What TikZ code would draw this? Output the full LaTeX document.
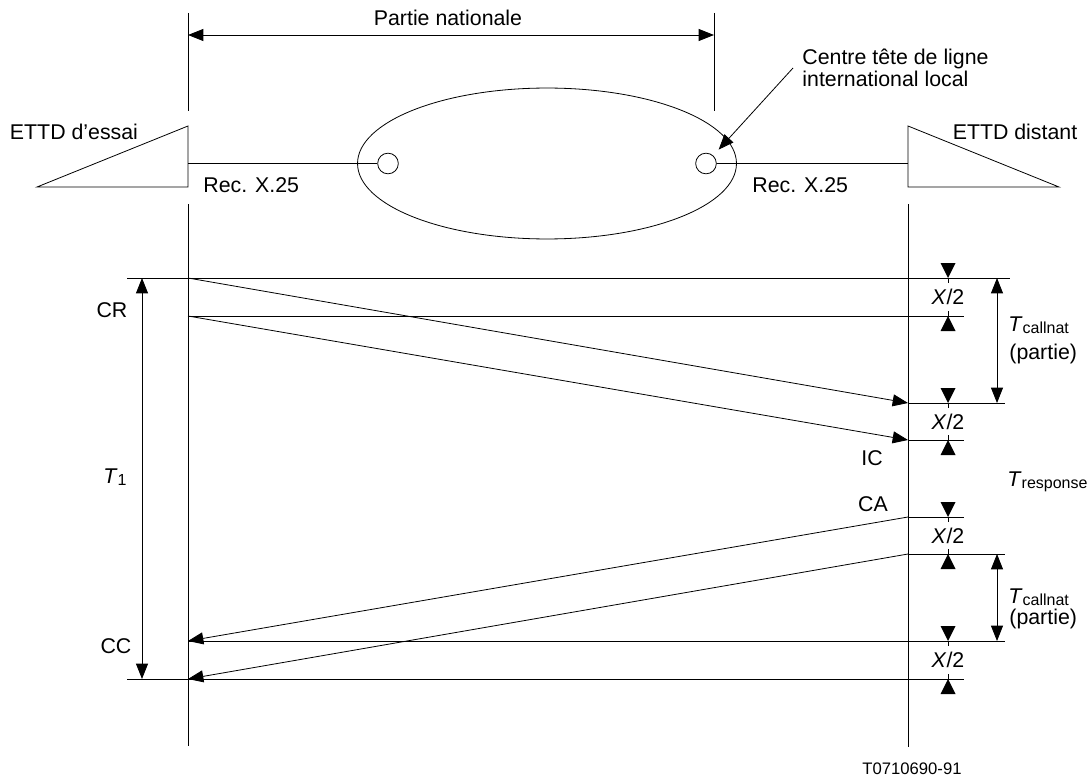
\documentclass[tikz,border=0pt]{standalone}
\usepackage{fontspec}
\setmainfont{Liberation Sans}
\usepackage{tikz}
\usetikzlibrary{arrows.meta}

\newcommand{\Tsub}[1]{\textit{T}\raisebox{-1.5pt}{\fontsize{12pt}{14pt}\selectfont #1}}

\begin{document}
\begin{tikzpicture}[x=0.75pt, y=-0.75pt, line width=0.6pt,
    >={Triangle[length=11.5pt,width=9pt]},
    every node/.style={font=\fontsize{16pt}{19pt}\selectfont, inner sep=0pt},
    txt/.style={anchor=base},
    txtl/.style={anchor=base west},
    pt/.style={circle, draw, minimum size=15.5pt, inner sep=0pt}]
      \useasboundingbox (0,0) rectangle (1088,781);

      \node[txt] (essai) at (74,140) {ETTD d'essai};
      \node[txt] (distant) at (1015,140) {ETTD distant};
      \node[txt] (nat) at (448,26) {Partie nationale};
      \node[txtl] (recA) at (203,192) {Rec. X.25};
      \node[txtl] (recB) at (752,192) {Rec. X.25};
      \node[txtl] (centre) at (802,65) {Centre tête de ligne};
      \node[txtl] (centreb) at (802,87) {international local};

      \draw (37,187) -- (188,126) -- (188,187) -- cycle;
      \draw (1059,187) -- (908,126) -- (908,187) -- cycle;
      \draw (547,163.5) ellipse [x radius=142.1pt, y radius=56.6pt];
      \node[pt] (ptA) at (388,163.5) {};
      \node[pt] (ptB) at (706,163.5) {};
      \coordinate (ettdA) at (188,163.5);
      \coordinate (ettdB) at (908,163.5);
      \draw (ettdA) -- (ptA);
      \draw (ptB) -- (ettdB);
      \coordinate (ptr) at (793,68);
      \draw[->, shorten >=6pt] (ptr) -- (ptB);

      \draw (188,13) -- (188,111);
      \draw (714,13) -- (714,111);
      \draw (188,204) -- (188,746);
      \draw (908,204) -- (908,747);
      \draw[<->] (188,35) -- (714,35);

      \coordinate (crA) at (188,278); \coordinate (crB) at (188,316);
      \coordinate (icA) at (908,403); \coordinate (icB) at (908,440);
      \coordinate (caA) at (908,517); \coordinate (caB) at (908,554);
      \coordinate (ccA) at (188,641); \coordinate (ccB) at (188,679);

      \draw (127,278) -- (1010,278);
      \draw (crB) -- (964,316);
      \draw (icA) -- (1005,403);
      \draw (icB) -- (964,440);
      \draw (caA) -- (964,517);
      \draw (caB) -- (1005,554);
      \draw (ccA) -- (1005,641);
      \draw (127,679) -- (964,679);

      \draw[->] (crA) -- (icA);
      \draw[->] (crB) -- (icB);
      \draw[->] (caA) -- (ccA);
      \draw[->] (caB) -- (ccB);

      \node[txt] (cr) at (112,317) {CR};
      \node[txt] (cc) at (116,653) {CC};
      \node[txt] (ic) at (872,465) {IC};
      \node[txt] (ca) at (873,511) {CA};

      \draw[<->] (142,278) -- (142,679);
      \node[txt] (tone) at (115,483) {\Tsub{1}};
      \draw[<->] (997,278) -- (997,403);
      \node[txtl] (tcallA) at (1008,331) {\Tsub{callnat}};
      \node[txtl] (partA) at (1009,359) {(partie)};
      \node[txtl] (tresp) at (1007,486) {\Tsub{response}};
      \draw[<->] (997,554) -- (997,641);
      \node[txtl] (tcallB) at (1008,603) {\Tsub{callnat}};
      \node[txtl] (partB) at (1009,624) {(partie)};

      \foreach \ya/\yb [count=\i] in {278/316, 403/440, 517/554, 641/679} {
        \fill (940.5,\ya-15) -- (955.5,\ya-15) -- (948,\ya) -- cycle;
        \fill (940.5,\yb+15) -- (955.5,\yb+15) -- (948,\yb) -- cycle;
        \draw (948,\ya) -- (948,\ya+5);
        \draw (948,\yb-5) -- (948,\yb);
        \node[txt] (half\i) at (948,{(\ya+\yb)/2+7.5}) {\textit{X}/2};
      }

      \node[txt, font=\fontsize{12.5pt}{14pt}\selectfont] (ref) at (912,774) {T0710690-91};
\end{tikzpicture}
\end{document}
